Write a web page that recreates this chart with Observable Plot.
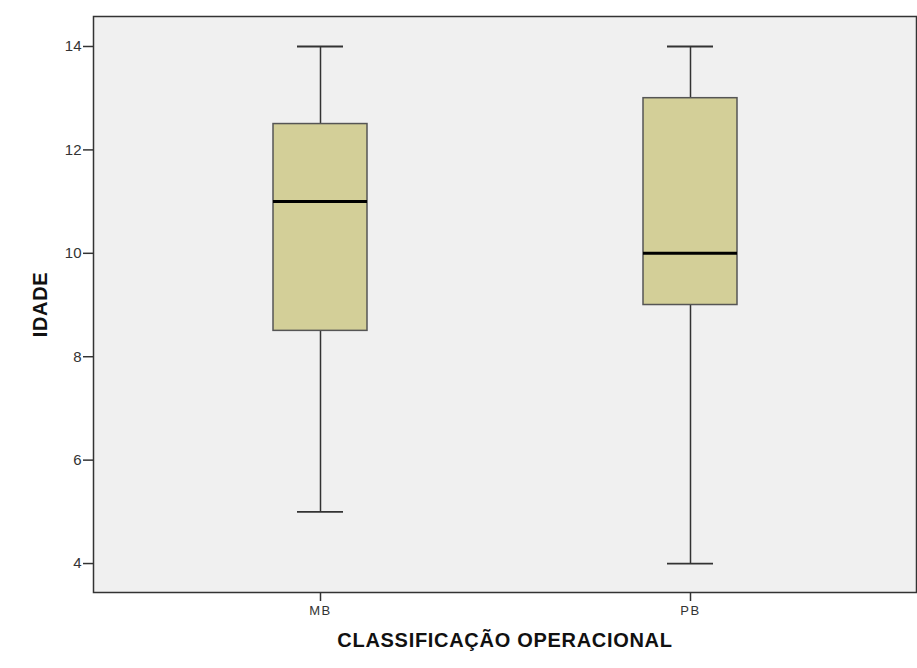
<!DOCTYPE html>
<html>
<head>
<meta charset="utf-8">
<script src="https://cdn.jsdelivr.net/npm/d3@7"></script>
<script src="https://cdn.jsdelivr.net/npm/@observablehq/plot@0.6"></script>
<style>
  html, body { margin: 0; padding: 0; background: #ffffff; }
  #chart { width: 917px; height: 668px; }
</style>
</head>
<body>
<div id="chart"></div>
<script>
const categories = ["MB", "PB"];
const minVals = [5, 4];
const q1Vals = [8.5, 9];
const medianVals = [11, 10];
const q3Vals = [12.5, 13];
const maxVals = [14, 14];
const yTicks = [4, 6, 8, 10, 12, 14];
const xTitle = "CLASSIFICAÇÃO OPERACIONAL";
const yTitle = "IDADE";

const rows = categories.map((c, i) => ({
  cat: c, min: minVals[i], q1: q1Vals[i], median: medianVals[i], q3: q3Vals[i], max: maxVals[i]
}));

const chart = Plot.plot({
  width: 917,
  height: 668,
  marginLeft: 93,
  marginRight: 1,
  marginTop: 16,
  marginBottom: 76,
  style: { fontFamily: "'Liberation Sans', Arial, sans-serif", background: "transparent", color: "#333" },
  x: { type: "band", domain: categories, paddingInner: 0.7466, paddingOuter: 0.4825, axis: null },
  y: { domain: [3.44, 14.58], axis: null },
  marks: [
    Plot.frame({ fill: "#f0f0f0" }),
    Plot.axisY({ ticks: yTicks, tickSize: 10, tickPadding: 2, fontSize: 15, label: null, stroke: "#333", fill: "#333", strokeWidth: 1.5, tickFormat: d => String(d) }),
    Plot.axisX({ tickSize: 9, tickPadding: 4, fontSize: 13, label: null, stroke: "#333", fill: "#333", strokeWidth: 1.5 }),
    Plot.ruleX(rows, { x: "cat", y1: "min", y2: "q1", stroke: "#333", strokeWidth: 1.5 }),
    Plot.ruleX(rows, { x: "cat", y1: "q3", y2: "max", stroke: "#333", strokeWidth: 1.5 }),
    Plot.tickY(rows, { x: "cat", y: "min", insetLeft: 24, insetRight: 24, stroke: "#333", strokeWidth: 1.8 }),
    Plot.tickY(rows, { x: "cat", y: "max", insetLeft: 24, insetRight: 24, stroke: "#333", strokeWidth: 1.8 }),
    Plot.barY(rows, { x: "cat", y1: "q1", y2: "q3", fill: "#d3cf98", stroke: "#555", strokeWidth: 1.5 }),
    Plot.tickY(rows, { x: "cat", y: "median", stroke: "#000", strokeWidth: 3 }),
    Plot.frame({ stroke: "#333", strokeWidth: 1.5 }),
    Plot.text([yTitle], { frameAnchor: "left", dx: -53, rotate: -90, fontSize: 20, fontWeight: "bold", fill: "#111", textAnchor: "middle" }),
    Plot.text([xTitle], { frameAnchor: "bottom", dy: 54, fontSize: 20, fontWeight: "bold", fill: "#111", textAnchor: "middle" })
  ]
});
d3.select(chart).selectAll("text").each(function () {
  const t = this.textContent;
  if (t === xTitle || t === yTitle) this.setAttribute("letter-spacing", "0.7");
  else if (categories.includes(t)) this.setAttribute("letter-spacing", "1.5");
});
document.getElementById("chart").appendChild(chart);
</script>
</body>
</html>
